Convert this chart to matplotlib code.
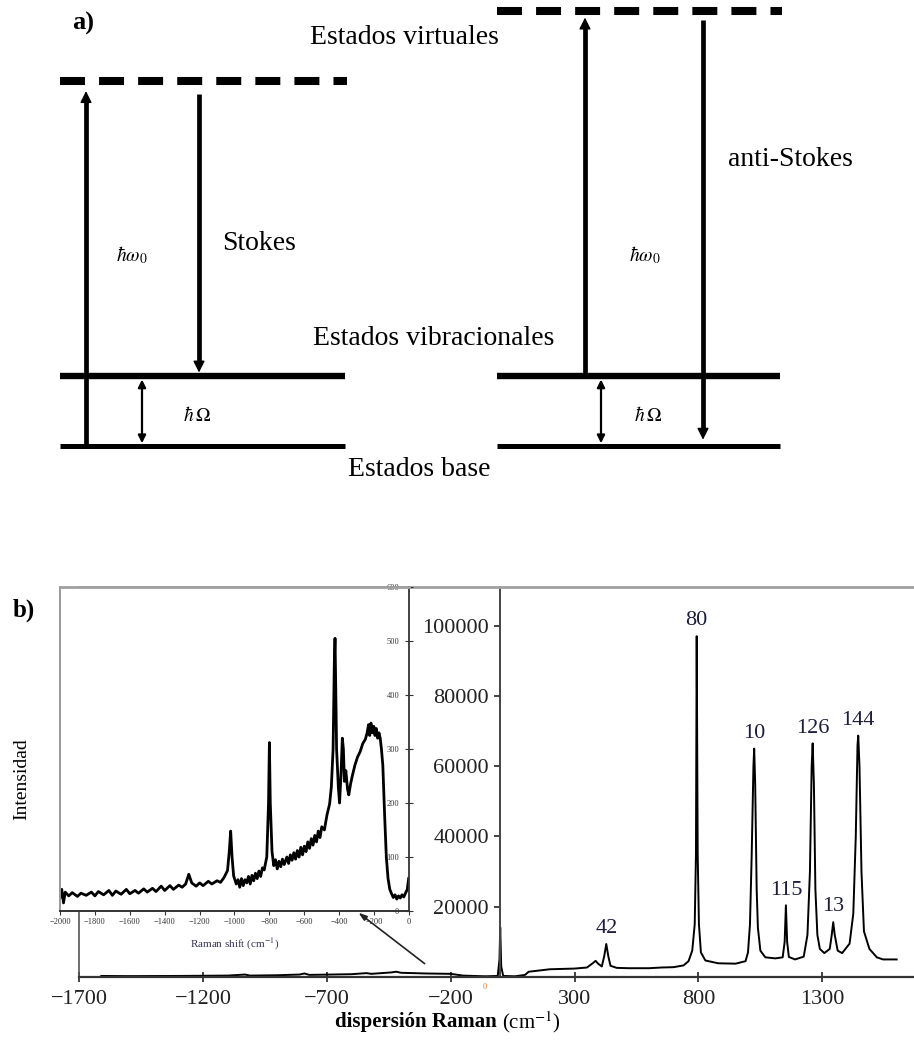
import matplotlib.pyplot as plt

plt.rcParams['font.family'] = ['Liberation Serif', 'DejaVu Serif']
plt.rcParams['mathtext.fontset'] = 'stix'

# ---------------- panel a: energy levels, in units of hbar*Omega ----------------
hOmega = 1.0
hw0 = 5.22
E_ground = 0.0
E_vib = E_ground + hOmega
E_virt_stokes = E_ground + hw0
E_virt_anti = E_vib + hw0

# ---------------- panel b: main spectrum (Raman shift, intensity) ----------------
raman_x = [-1610, -1500, -1300, -1100, -1030, -1010, -900, -810, -790, -770,
           -600, -540, -520, -440, -420, -400, -300, -200, -150, -60,
           -10, -3, 0, 4, 12, 60, 100, 115, 200, 300,
           350, 375, 385, 395, 410, 420, 428, 436, 445, 470,
           520, 600, 650, 700, 740, 760, 775, 785, 790, 793,
           797, 802, 810, 828, 880, 950, 990, 1000, 1008, 1015,
           1022, 1025, 1029, 1035, 1040, 1050, 1070, 1110, 1140, 1148,
           1153, 1158, 1165, 1190, 1225, 1240, 1250, 1257, 1261, 1266,
           1272, 1280, 1290, 1308, 1330, 1338, 1344, 1350, 1362, 1380,
           1410, 1425, 1435, 1442, 1445, 1450, 1458, 1468, 1490, 1520,
           1545, 1600]
raman_y = [300, 250, 300, 400, 700, 400, 500, 700, 1000, 600,
           800, 1100, 900, 1300, 1500, 1200, 1000, 900, 400, 200,
           300, 5000, 14100, 3000, 300, 200, 600, 1500, 2200, 2400,
           2700, 4000, 4600, 3800, 3000, 6000, 9400, 6000, 3200, 2600,
           2500, 2500, 2700, 2800, 3300, 4500, 7500, 15000, 35000, 97000,
           35000, 15000, 7000, 4700, 3900, 3800, 4500, 7000, 15000, 35000,
           60000, 65000, 55000, 25000, 14000, 7500, 5600, 5300, 5600, 10000,
           20400, 10000, 5700, 5000, 5800, 12000, 30000, 60000, 66500, 55000,
           25000, 12000, 8000, 6800, 8000, 12000, 15600, 12000, 7500, 6800,
           9500, 18000, 40000, 66000, 68700, 60000, 30000, 13000, 8000, 5600,
           5000, 5000]

peak_x = [428, 793, 1025, 1153, 1261, 1344, 1445]
peak_y = [9400, 97000, 65000, 20400, 66500, 15600, 68700]
peak_lbl = ['42', '80', '10', '115', '126', '13', '144']

main_xticks = [-1700, -1200, -700, -200, 300, 800, 1300]
main_yticks = [20000, 40000, 60000, 80000, 100000]

# ---------------- panel b inset: anti-Stokes side ----------------
inset_x = [-2000, -1990, -1980, -1970, -1950, -1930, -1900, -1880, -1850, -1820,
           -1800, -1780, -1750, -1720, -1700, -1680, -1650, -1620, -1600, -1570,
           -1550, -1520, -1500, -1470, -1450, -1420, -1400, -1370, -1350, -1320,
           -1300, -1280, -1262, -1245, -1220, -1200, -1180, -1150, -1130, -1100,
           -1080, -1060, -1040, -1030, -1022, -1014, -1005, -990, -980, -970,
           -960, -950, -940, -930, -920, -910, -900, -890, -880, -870,
           -860, -850, -840, -830, -815, -805, -800, -795, -785, -775,
           -765, -755, -745, -735, -725, -715, -700, -690, -680, -670,
           -660, -650, -640, -630, -620, -610, -600, -590, -580, -570,
           -560, -550, -540, -530, -520, -510, -500, -485, -470, -455,
           -445, -435, -428, -424, -420, -415, -405, -398, -390, -382,
           -376, -370, -362, -352, -345, -335, -325, -310, -295, -280,
           -265, -250, -240, -232, -225, -218, -210, -202, -195, -188,
           -180, -172, -165, -158, -150, -140, -130, -120, -110, -100,
           -90, -80, -70, -60, -50, -40, -30, -20, -10, -2]
inset_y = [25, 40, 15, 35, 28, 34, 27, 33, 29, 35,
           28, 36, 30, 38, 29, 37, 31, 40, 32, 38,
           33, 41, 35, 42, 36, 46, 38, 47, 40, 48,
           44, 50, 68, 52, 46, 52, 47, 55, 50, 56,
           53, 62, 75, 110, 148, 100, 65, 50, 58, 44,
           60, 47, 58, 52, 64, 50, 66, 56, 70, 60,
           74, 64, 80, 76, 100, 200, 312, 200, 110, 84,
           95, 78, 92, 82, 96, 86, 100, 88, 104, 94,
           108, 96, 112, 100, 118, 104, 120, 110, 128, 116,
           134, 122, 140, 128, 148, 136, 156, 150, 178, 198,
           230, 300, 460, 505, 420, 300, 230, 200, 250, 320,
           300, 240, 260, 225, 215, 235, 250, 270, 285, 295,
           310, 318, 330, 345, 325, 348, 330, 342, 325, 338,
           320, 330, 320, 300, 270, 180, 100, 60, 40, 32,
           25, 30, 22, 28, 24, 30, 26, 33, 40, 60]
inset_xticks = [-2000, -1800, -1600, -1400, -1200, -1000, -800, -600, -400, -200, 0]
inset_yticks = [0, 100, 200, 300, 400, 500, 600]

W, H = 914, 1042
fig = plt.figure(figsize=(W / 100, H / 100), dpi=100)


def fx(px):
    return px / W


def fy(py):
    return 1 - py / H


# ======================= panel a =======================
ax_a = fig.add_axes([0, fy(480), 1, 480 / H])
ax_a.set_xlim(0, W)
ax_a.set_ylim((446 - 480) / 70, 446 / 70)
ax_a.axis('off')

dash = (0, (3.1, 1.75))
for x0, x1, e_virt in [(60, 347, E_virt_stokes), (497, 782, E_virt_anti)]:
    ax_a.plot([x0, x1], [e_virt, e_virt], color='k', lw=5.8, ls=dash,
              dash_capstyle='butt')
    ax_a.plot([x0, x1 - 2], [E_vib, E_vib], color='k', lw=4.6,
              solid_capstyle='butt')
    ax_a.plot([x0, x1 - 2], [E_ground, E_ground], color='k', lw=3.6,
              solid_capstyle='butt')

head = 0.14


def arrow(x, y0, y1):
    s = 1 if y1 > y0 else -1
    ax_a.plot([x, x], [y0, y1 - s * head], color='k', lw=3.4,
              solid_capstyle='butt')
    ax_a.annotate('', xy=(x, y1), xytext=(x, y1 - s * head * 1.05),
                  arrowprops=dict(arrowstyle='-|>,head_length=0.5,head_width=0.25',
                                  mutation_scale=14, lw=1, color='k',
                                  shrinkA=0, shrinkB=0))


def double_arrow(x, y0, y1):
    ax_a.annotate('', xy=(x, y1), xytext=(x, y0),
                  arrowprops=dict(arrowstyle='<|-|>,head_length=0.5,head_width=0.25',
                                  mutation_scale=9, lw=1.6, color='k',
                                  shrinkA=0, shrinkB=0))


# Stokes
arrow(86, E_ground, E_virt_stokes - 0.15)
arrow(199, E_virt_stokes - 0.19, E_vib + 0.05)
double_arrow(142, E_vib - 0.05, E_ground + 0.04)
# anti-Stokes
arrow(585, E_vib, E_virt_anti - 0.10)
arrow(703, E_virt_anti - 0.14, E_ground + 0.09)
double_arrow(601, E_vib - 0.05, E_ground + 0.04)

fs = 20
ax_a.text(132, 2.73, r'$\hbar\omega_0$', fontsize=14, ha='center', va='center')
ax_a.text(645, 2.73, r'$\hbar\omega_0$', fontsize=14, ha='center', va='center')
ax_a.text(197, 0.44, r'$\hbar\,\Omega$', fontsize=14, ha='center', va='center')
ax_a.text(648, 0.44, r'$\hbar\,\Omega$', fontsize=14, ha='center', va='center')
ax_a.text(222, 2.90, 'Stokes', fontsize=fs, ha='left', va='center')
ax_a.text(728, 4.09, 'anti-Stokes', fontsize=fs, ha='left', va='center')
ax_a.text(310, 5.83, 'Estados virtuales', fontsize=fs, ha='left', va='center')
ax_a.text(313, 1.54, 'Estados vibracionales', fontsize=fs, ha='left', va='center')
ax_a.text(348, -0.34, 'Estados base', fontsize=fs, ha='left', va='center')
ax_a.text(72, 6.04, 'a)', fontsize=19, weight='bold', ha='left', va='center')

# ======================= panel b: main =======================
ax = fig.add_axes([fx(79), fy(977), (W - 79) / W, (977 - 587) / H])
ax.plot(raman_x, raman_y, color='k', lw=1.4)
ax.set_xlim(-1700, 1670)
ax.set_ylim(0, 111000)
ax.spines['left'].set_position(('data', 0))
ax.spines['left'].set_color('#444444')
ax.spines['left'].set_linewidth(1.4)
ax.spines['right'].set_position(('axes', 0))
ax.spines['right'].set_color('#555555')
ax.spines['right'].set_linewidth(1.2)
ax.spines['top'].set_color('#a0a0a0')
ax.spines['top'].set_linewidth(2)
ax.spines['bottom'].set_color('#333333')
ax.spines['bottom'].set_linewidth(1.6)
ax.yaxis.set_ticks_position('left')
ax.xaxis.set_ticks_position('bottom')
ax.set_xticks(main_xticks)
ax.set_xticklabels([f'{v}'.replace('-', '\u2212') for v in main_xticks])
ax.set_yticks(main_yticks)
ax.set_yticklabels([str(v) for v in main_yticks])
ax.tick_params(labelsize=16, direction='out', length=4, width=1.2, pad=4,
               colors='#222222')
ax.tick_params(axis='x', direction='inout', length=7, pad=6)

for lbl, px_, py_ in zip(peak_lbl, peak_x, peak_y):
    ax.annotate(lbl, xy=(px_, py_), xytext=(0, 11), textcoords='offset points',
                ha='center', va='center', fontsize=16, color='#1c1c3c')

ax.text(-62, -1600, '0', fontsize=6, color='#d08040', ha='center', va='top')
ax.annotate('', xy=(-572, 18300), xytext=(-305, 3800),
            arrowprops=dict(arrowstyle='-|>,head_length=0.6,head_width=0.2',
                            mutation_scale=8, lw=1.2, color='#222222',
                            shrinkA=0, shrinkB=0))

fig.text(fx(22), fy(779), 'Intensidad', rotation=90, fontsize=14,
         ha='center', va='center')
fig.text(fx(497), fy(1022), 'dispersión Raman', fontsize=15, weight='bold',
         ha='right', va='center')
fig.text(fx(502), fy(1022), '(cm$^{-1}$)', fontsize=15, ha='left', va='center')
fig.text(fx(13), fy(610), 'b)', fontsize=18, weight='bold', ha='left',
         va='center')

# ======================= panel b: inset =======================
axi = fig.add_axes([fx(60), fy(911), (409 - 60) / W, (911 - 587) / H])
axi.set_facecolor('white')
axi.plot(inset_x, inset_y, color='k', lw=2.0)
axi.set_xlim(-2000, 0)
axi.set_ylim(0, 600)
axi.spines['left'].set_position(('axes', 1))
axi.spines['left'].set_color('#333333')
axi.spines['left'].set_linewidth(1.3)
axi.spines['right'].set_position(('axes', 0))
axi.spines['right'].set_color('#9a9a9a')
axi.spines['right'].set_linewidth(1.4)
axi.spines['top'].set_color('#a0a0a0')
axi.spines['top'].set_linewidth(2)
axi.spines['bottom'].set_color('#333333')
axi.spines['bottom'].set_linewidth(1.4)
axi.yaxis.set_ticks_position('left')
axi.xaxis.set_ticks_position('bottom')
axi.set_xticks(inset_xticks)
axi.set_xticklabels([f'{v}'.replace('-', '\u2212') for v in inset_xticks])
axi.set_yticks(inset_yticks)
axi.tick_params(labelsize=6, colors='#333333', width=0.8)
axi.tick_params(axis='x', direction='out', length=3, pad=2)
axi.tick_params(axis='y', direction='inout', length=6, pad=4)
axi.set_xlabel('Raman shift (cm$^{-1}$)', fontsize=8, color='#333355',
               labelpad=8)

fig.savefig('out.png', dpi=100)
